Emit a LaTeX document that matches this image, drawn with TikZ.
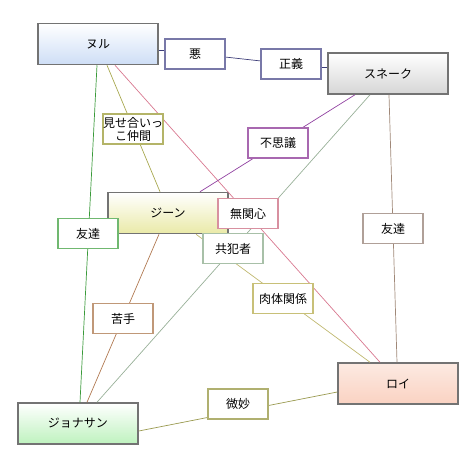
\documentclass[tikz,border=0pt]{standalone}
\usepackage{fontspec}
\setmainfont{Noto Sans CJK JP}
\definecolor{cnavy}{RGB}{60,60,120}
\definecolor{cgreen}{RGB}{58,154,58}
\definecolor{colive}{RGB}{168,168,80}
\definecolor{cpink}{RGB}{216,120,144}
\definecolor{cpurple}{RGB}{144,64,160}
\definecolor{cgraygreen}{RGB}{152,176,152}
\definecolor{cbrowngray}{RGB}{160,136,120}
\definecolor{colivey}{RGB}{192,184,112}
\definecolor{cbrown}{RGB}{176,120,80}
\definecolor{colive2}{RGB}{154,154,80}
\definecolor{bnavy}{RGB}{120,120,168}
\definecolor{bolive}{RGB}{180,180,104}
\definecolor{bpurple}{RGB}{168,104,176}
\definecolor{bgreen}{RGB}{112,184,112}
\definecolor{bgraygreen}{RGB}{168,192,168}
\definecolor{bpink}{RGB}{216,144,160}
\definecolor{bbrowngray}{RGB}{176,160,152}
\definecolor{bolivey}{RGB}{200,192,120}
\definecolor{bbrown}{RGB}{192,152,120}
\definecolor{bolive2}{RGB}{176,176,112}
\definecolor{fblue}{RGB}{206,222,246}
\definecolor{fgray}{RGB}{214,214,214}
\definecolor{fyellow}{RGB}{234,234,168}
\definecolor{fgreen}{RGB}{190,242,190}
\definecolor{fpinktop}{RGB}{252,234,226}
\definecolor{fpinkbot}{RGB}{250,210,194}
\begin{document}
\begin{tikzpicture}[x=1pt,y=-1pt,
  mainbox/.style={draw=black!55,line width=1.5pt,minimum width=120pt,minimum height=41pt,inner sep=0pt,font=\fontsize{12}{13.5}\selectfont,top color=white},
  lbl/.style={draw=#1,line width=1.4pt,fill=white,minimum width=60pt,minimum height=30pt,inner sep=1pt,align=center,font=\fontsize{12}{13}\selectfont},
  conn/.style={line width=0.7pt,draw=#1}]
\useasboundingbox (0,0) rectangle (472,469);
% main nodes
\node[mainbox,bottom color=fblue] (nul) at (98,44) {ヌル};
\node[mainbox,bottom color=fgray] (snake) at (388,73.5) {スネーク};
\node[mainbox,bottom color=fyellow] (jean) at (168,213) {ジーン};
\node[mainbox,bottom color=fgreen] (jon) at (78,423.5) {ジョナサン};
\node[mainbox,top color=fpinktop,bottom color=fpinkbot] (roy) at (398,383.5) {ロイ};
% label coordinates
\coordinate (caku) at (195,54);
\coordinate (cseigi) at (291,64);
% connectors
\draw[conn=cnavy] ([yshift=-6pt]nul.east) -- ([yshift=4pt,xshift=-30pt]caku);
\draw[conn=cnavy] ([yshift=-3pt,xshift=30pt]caku) -- ([yshift=3pt,xshift=-30pt]cseigi);
\draw[conn=cnavy] ([yshift=-3pt,xshift=30pt]cseigi) -- ([yshift=6.5pt]snake.west);
\draw[conn=cgreen] ([xshift=-1pt]nul.south) -- ([xshift=2pt]jon.north);
\draw[conn=colive] ([xshift=9pt]nul.south) -- ([xshift=-8pt]jean.north);
\draw[conn=cpink] ([xshift=17pt]nul.south) -- ([xshift=-18pt]roy.north);
\draw[conn=cpurple] ([xshift=-33pt]snake.south) -- ([xshift=32pt]jean.north);
\draw[conn=cgraygreen] ([xshift=-18pt]snake.south) -- ([xshift=19pt]jon.north);
\draw[conn=cbrowngray] ([xshift=1pt]snake.south) -- ([xshift=-1pt]roy.north);
\draw[conn=colivey] ([xshift=28pt]jean.south) -- ([xshift=-28pt]roy.north);
\draw[conn=cbrown] ([xshift=-9pt]jean.south) -- ([xshift=9pt]jon.north);
\draw[conn=colive2] ([yshift=-7.5pt]jon.east) -- ([yshift=-8.5pt]roy.west);
% labels
\node[lbl=bnavy] (aku) at (caku) {悪};
\node[lbl=bnavy] (seigi) at (cseigi) {正義};
\node[lbl=bolive,inner sep=0pt] (mise) at (133,129) {見せ合いっ\\こ仲間};
\node[lbl=bpurple] (fushigi) at (278,143) {不思議};
\node[lbl=bgreen] (tomo1) at (88,233.5) {友達};
\node[lbl=bgraygreen] (kyohan) at (233,248.5) {共犯者};
\node[lbl=bpink] (mukan) at (248,213.5) {無関心};
\node[lbl=bbrowngray] (tomo2) at (393,228.5) {友達};
\node[lbl=bolivey] (nikutai) at (283,298.5) {肉体関係};
\node[lbl=bbrown] (nigate) at (123,318.5) {苦手};
\node[lbl=bolive2] (bimyo) at (238,404) {微妙};
\end{tikzpicture}
\end{document}
